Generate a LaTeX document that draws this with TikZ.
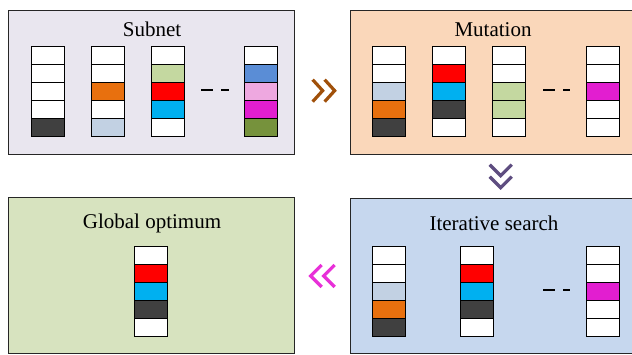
\documentclass[tikz,border=0pt]{standalone}
\usepackage{fontspec}
\setmainfont{Liberation Serif}
\definecolor{bgsub}{HTML}{E9E6EF}
\definecolor{bgmut}{HTML}{FAD7BA}
\definecolor{bgglo}{HTML}{D7E3BF}
\definecolor{bgite}{HTML}{C6D7EE}
\definecolor{cW}{HTML}{FFFFFF}
\definecolor{cK}{HTML}{404040}
\definecolor{cL}{HTML}{C2D1E3}
\definecolor{cO}{HTML}{E8700E}
\definecolor{cG}{HTML}{C4D8A0}
\definecolor{cR}{HTML}{FF0000}
\definecolor{cC}{HTML}{00B0F0}
\definecolor{cB}{HTML}{5A8DD6}
\definecolor{cP}{HTML}{EEA8E0}
\definecolor{cM}{HTML}{E21ED0}
\definecolor{cV}{HTML}{76923C}
\definecolor{arbrown}{HTML}{A0500A}
\definecolor{arpurple}{HTML}{5E4D80}
\definecolor{armag}{HTML}{E830D8}
\tikzset{
  panel/.style={draw=black!85, line width=1.3pt, anchor=north west, inner sep=0pt},
  cell/.style={draw=black, line width=1.3pt, minimum width=33pt, minimum height=18pt, inner sep=0pt, anchor=north west},
  title/.style={font=\fontsize{21}{25}\selectfont, anchor=base, inner sep=0pt},
  chev/.style={line width=3.2pt, line cap=butt, line join=miter},
  gap/.style={line width=1.3pt}
}
\newcommand\genecol[4]{%
  \foreach \c [count=\i from 0] in {#4} {
    \node[cell, fill=\c] (#1-\i) at (#2,{#3+18*\i}) {};
  }%
}
\begin{document}
\begin{tikzpicture}[x=1pt,y=-1pt]
\useasboundingbox (0,0) rectangle (632,354);
\clip (0,0) rectangle (632,354);
% panels
\node[panel, fill=bgsub, minimum width=286pt, minimum height=144pt] (subnet) at (8,10) {};
\node[panel, fill=bgmut, minimum width=300pt, minimum height=144pt] (mutation) at (350,10) {};
\node[panel, fill=bgglo, minimum width=286pt, minimum height=156pt] (global) at (8,197) {};
\node[panel, fill=bgite, minimum width=300pt, minimum height=155pt] (iter) at (350,198) {};
% titles
\node[title] (tsub) at (152,36) {Subnet};
\node[title] (tmut) at (493,36) {Mutation};
\node[title] (tglo) at (152,228) {Global optimum};
\node[title] (tite) at (494,230) {Iterative search};
% subnet columns
\genecol{s1}{31}{46}{cW,cW,cW,cW,cK}
\genecol{s2}{91}{46}{cW,cW,cO,cW,cL}
\genecol{s3}{151}{46}{cW,cG,cR,cC,cW}
\genecol{s4}{244}{46}{cW,cB,cP,cM,cV}
\draw[gap] (201,90) -- (213,90) (221,90) -- (229,90);
% mutation columns
\genecol{m1}{372}{46}{cW,cW,cL,cO,cK}
\genecol{m2}{432}{46}{cW,cR,cC,cK,cW}
\genecol{m3}{492}{46}{cW,cW,cG,cG,cW}
\genecol{m4}{586}{46}{cW,cW,cM,cW,cW}
\draw[gap] (543,90) -- (555,90) (563,90) -- (570,90);
% global optimum
\genecol{g1}{134}{246}{cW,cR,cC,cK,cW}
% iterative search
\genecol{i1}{372}{246}{cW,cW,cL,cO,cK}
\genecol{i2}{460}{246}{cW,cR,cC,cK,cW}
\genecol{i3}{586}{246}{cW,cW,cM,cW,cW}
\draw[gap] (543,290) -- (555,290) (563,290) -- (570,290);
% connectors (double chevrons)
\path (subnet.east) -- (mutation.west) coordinate[midway] (a1);
\path (mutation.south) -- (iter.north) coordinate[midway] (a2);
\path (iter.west) -- (global.east) coordinate[midway] (a3);
\begin{scope}[shift={(a1)}]
  \draw[chev, arbrown] (-10,-3) -- (0,8) -- (-10,19);
  \draw[chev, arbrown] (2,-3) -- (12,8) -- (2,19);
\end{scope}
\begin{scope}[shift={(a2)}]
  \draw[chev, arpurple] (-11,-12) -- (0,-1) -- (11,-12);
  \draw[chev, arpurple] (-11,0) -- (0,11) -- (11,0);
\end{scope}
\begin{scope}[shift={(a3)}]
  \draw[chev, armag] (-1,-11) -- (-12,0) -- (-1,11);
  \draw[chev, armag] (12,-11) -- (1,0) -- (12,11);
\end{scope}
\end{tikzpicture}
\end{document}
